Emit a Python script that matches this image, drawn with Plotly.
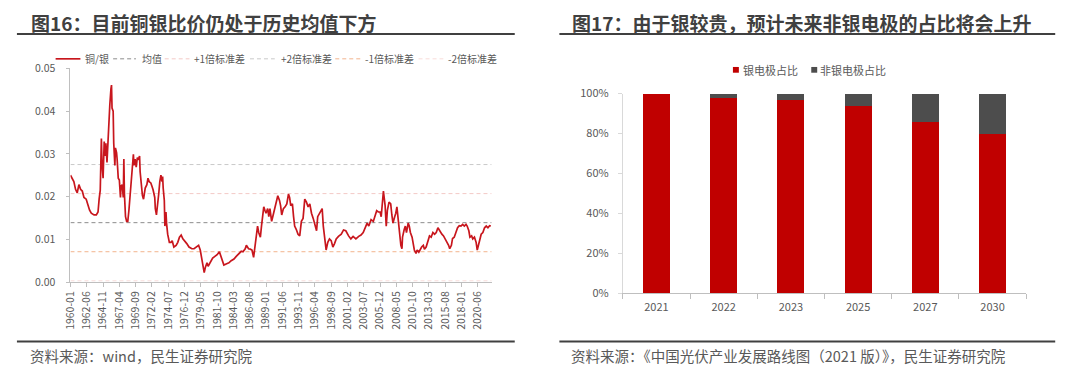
import plotly.graph_objects as go

W, H = 1080, 382


def px(x):
    return x / W


def py(y):
    return 1 - y / H


FONT = "Noto Sans CJK SC"
GRAY_TXT = "#595959"
DARK = "#404040"

# ---------------- Chart 16: copper / silver ratio ----------------
months_since_1960_01 = [
    0, 3, 6, 9, 12, 15, 18, 21, 24, 28,
    31, 34, 37, 42, 46, 49, 51, 53, 55, 56,
    58, 60, 62, 63, 65, 67, 70, 72, 73, 74,
    76, 77, 79, 80, 82, 83, 85, 87, 89, 90,
    92, 94, 95, 96, 98, 100, 102, 104, 106, 108,
    110, 112, 113, 115, 117, 119, 121, 123, 124, 126,
    128, 130, 131, 133, 136, 138, 140, 143, 145, 147,
    150, 151, 153, 155, 157, 159, 161, 163, 164, 165,
    167, 168, 170, 171, 173, 176, 179, 181, 184, 188,
    191, 194, 197, 200, 203, 207, 211, 216, 220, 225,
    228, 231, 233, 236, 238, 240, 243, 245, 248, 253,
    257, 261, 265, 269, 273, 278, 282, 286, 291, 295,
    300, 304, 307, 311, 313, 317, 320, 323, 326, 328,
    331, 333, 335, 338, 340, 344, 346, 348, 351, 353,
    355, 358, 360, 362, 365, 367, 369, 372, 374, 376,
    379, 382, 385, 388, 390, 392, 395, 397, 399, 402,
    405, 408, 411, 414, 417, 420, 423, 426, 429, 432,
    435, 438, 440, 443, 446, 448, 450, 453, 455, 458,
    461, 464, 467, 470, 473, 477, 482, 486, 490, 495,
    499, 503, 508, 513, 517, 521, 524, 528, 531, 535,
    539, 542, 545, 548, 551, 553, 555, 557, 558, 560,
    562, 564, 567, 570, 572, 574, 577, 579, 581, 583,
    585, 588, 590, 591, 594, 596, 598, 601, 603, 605,
    608, 610, 612, 615, 617, 620, 622, 625, 628, 630,
    633, 636, 639, 642, 645, 648, 651, 654, 656, 658,
    661, 664, 667, 670, 673, 675, 678, 680, 683, 686,
    689, 692, 695, 698, 701, 704, 706, 709, 711, 714,
    716, 719, 722, 724, 726, 729, 731, 734, 737, 740,
    743, 746, 748,
]

cu_ag_ratio = [
    0.0250, 0.0243, 0.0235, 0.0217, 0.0209, 0.0228, 0.0217, 0.0213, 0.0198, 0.0194,
    0.0179, 0.0168, 0.0161, 0.0157, 0.0157, 0.0164, 0.0194, 0.0215, 0.0336, 0.0280,
    0.0243, 0.0329, 0.0295, 0.0325, 0.0280, 0.0348, 0.0415, 0.0452, 0.0461, 0.0407,
    0.0400, 0.0325, 0.0273, 0.0314, 0.0303, 0.0288, 0.0243, 0.0239, 0.0198, 0.0224,
    0.0228, 0.0198, 0.0288, 0.0206, 0.0153, 0.0142, 0.0142, 0.0168, 0.0198, 0.0228,
    0.0265, 0.0299, 0.0273, 0.0288, 0.0269, 0.0291, 0.0288, 0.0295, 0.0258, 0.0220,
    0.0203, 0.0194, 0.0206, 0.0220, 0.0228, 0.0243, 0.0235, 0.0232, 0.0224, 0.0216,
    0.0198, 0.0172, 0.0157, 0.0176, 0.0206, 0.0235, 0.0250, 0.0235, 0.0247, 0.0220,
    0.0191, 0.0131, 0.0164, 0.0138, 0.0112, 0.0093, 0.0093, 0.0097, 0.0082, 0.0086,
    0.0093, 0.0105, 0.0110, 0.0101, 0.0097, 0.0090, 0.0082, 0.0078, 0.0078, 0.0082,
    0.0086, 0.0075, 0.0060, 0.0041, 0.0022, 0.0034, 0.0045, 0.0037, 0.0045, 0.0056,
    0.0060, 0.0064, 0.0071, 0.0056, 0.0040, 0.0043, 0.0045, 0.0050, 0.0054, 0.0060,
    0.0067, 0.0072, 0.0071, 0.0078, 0.0086, 0.0078, 0.0077, 0.0075, 0.0058, 0.0078,
    0.0101, 0.0131, 0.0116, 0.0105, 0.0131, 0.0176, 0.0168, 0.0161, 0.0172, 0.0153,
    0.0172, 0.0142, 0.0153, 0.0164, 0.0179, 0.0194, 0.0202, 0.0191, 0.0179, 0.0157,
    0.0172, 0.0176, 0.0183, 0.0206, 0.0198, 0.0179, 0.0183, 0.0153, 0.0131, 0.0123,
    0.0112, 0.0108, 0.0142, 0.0149, 0.0194, 0.0187, 0.0176, 0.0183, 0.0161, 0.0149,
    0.0131, 0.0120, 0.0153, 0.0161, 0.0168, 0.0172, 0.0131, 0.0093, 0.0075, 0.0093,
    0.0101, 0.0097, 0.0082, 0.0090, 0.0101, 0.0107, 0.0112, 0.0122, 0.0120, 0.0108,
    0.0101, 0.0107, 0.0101, 0.0107, 0.0110, 0.0116, 0.0127, 0.0138, 0.0131, 0.0146,
    0.0142, 0.0153, 0.0167, 0.0164, 0.0164, 0.0153, 0.0191, 0.0213, 0.0202, 0.0179,
    0.0131, 0.0168, 0.0187, 0.0183, 0.0157, 0.0138, 0.0153, 0.0161, 0.0176, 0.0146,
    0.0112, 0.0086, 0.0078, 0.0105, 0.0123, 0.0131, 0.0116, 0.0138, 0.0131, 0.0116,
    0.0105, 0.0090, 0.0075, 0.0067, 0.0075, 0.0070, 0.0075, 0.0082, 0.0086, 0.0077,
    0.0082, 0.0097, 0.0108, 0.0105, 0.0116, 0.0112, 0.0116, 0.0127, 0.0123, 0.0116,
    0.0112, 0.0108, 0.0101, 0.0093, 0.0086, 0.0078, 0.0086, 0.0102, 0.0105, 0.0116,
    0.0127, 0.0132, 0.0131, 0.0135, 0.0131, 0.0135, 0.0131, 0.0120, 0.0105, 0.0108,
    0.0101, 0.0105, 0.0093, 0.0075, 0.0086, 0.0101, 0.0112, 0.0116, 0.0127, 0.0131,
    0.0127, 0.0132, 0.0131,
]
assert len(months_since_1960_01) == len(cu_ag_ratio)

ref_names = ["均值", "+1倍标准差", "+2倍标准差", "-1倍标准差", "-2倍标准差"]
ref_levels = [0.0139, 0.0207, 0.0275, 0.0071, 0.0003]
ref_colors = ["#8C8C8C", "#F3C9C6", "#C9C9C9", "#F2B48E", "#F8DCDA"]

x_tick_labels = [
    "1960-01", "1962-06", "1964-11", "1967-04", "1969-09", "1972-02",
    "1974-07", "1976-12", "1979-05", "1981-10", "1984-03", "1986-08",
    "1989-01", "1991-06", "1993-11", "1996-04", "1998-09", "2001-02",
    "2003-07", "2005-12", "2008-05", "2010-10", "2013-03", "2015-08",
    "2018-01", "2020-06",
]
y1_ticks = [0.00, 0.01, 0.02, 0.03, 0.04, 0.05]
x_start, x_end = "1960-01-01", "2022-06-20"

# ---------------- Chart 17: electrode share ----------------
years = ["2021", "2022", "2023", "2025", "2027", "2030"]
silver_share = [100, 98, 97, 94, 86, 80]
non_silver_share = [0, 2, 3, 6, 14, 20]
y2_ticks = [0, 20, 40, 60, 80, 100]
y2_labels = ["0%", "20%", "40%", "60%", "80%", "100%"]

RED_LINE = "#C8161D"
RED_BAR = "#C00000"
GRAY_BAR = "#4D4D4D"

dates = [f"{1960 + m // 12}-{m % 12 + 1:02d}-01" for m in months_since_1960_01]

fig = go.Figure()

for name, lvl, col in zip(ref_names, ref_levels, ref_colors):
    fig.add_trace(go.Scatter(
        x=[x_start, x_end], y=[lvl, lvl], mode="lines", name=name,
        line=dict(color=col, width=1, dash="4px,3px"),
        xaxis="x", yaxis="y", showlegend=False, hoverinfo="skip"))

fig.add_trace(go.Scatter(
    x=dates, y=cu_ag_ratio, mode="lines", name="铜/银",
    line=dict(color=RED_LINE, width=1.7),
    xaxis="x", yaxis="y", showlegend=False))

fig.add_trace(go.Bar(x=years, y=silver_share, name="银电极占比",
                     marker=dict(color=RED_BAR, line=dict(width=0)),
                     xaxis="x2", yaxis="y2", showlegend=False))
fig.add_trace(go.Bar(x=years, y=non_silver_share, name="非银电极占比",
                     marker=dict(color=GRAY_BAR, line=dict(width=0)),
                     xaxis="x2", yaxis="y2", showlegend=False))

axis_line = "#BFBFBF"

fig.update_layout(
    width=W, height=H, autosize=False,
    margin=dict(l=0, r=0, t=0, b=0),
    paper_bgcolor="white", plot_bgcolor="white",
    font=dict(family=FONT, color=GRAY_TXT),
    barmode="stack", bargap=0.6,
    xaxis=dict(
        domain=[px(62), px(486.7)], anchor="y", type="date",
        range=[x_start, x_end], tickmode="array",
        tickvals=[t + "-01" for t in x_tick_labels], ticktext=x_tick_labels,
        tickangle=-90, tickfont=dict(size=10.5, color=GRAY_TXT, family=FONT),
        showline=True, linecolor=axis_line, linewidth=1,
        ticks="outside", ticklen=4, tickcolor=axis_line,
        showgrid=False, zeroline=False, fixedrange=True),
    yaxis=dict(
        domain=[py(285), py(62)], anchor="x", range=[0, 0.05],
        tickmode="array", tickvals=y1_ticks, tickformat=".2f",
        tickfont=dict(size=10.5, color=GRAY_TXT, family=FONT),
        showline=True, linecolor=axis_line, linewidth=1,
        ticks="outside", ticklen=3, tickcolor=axis_line,
        ticklabelstandoff=9,
        showgrid=False, zeroline=False, fixedrange=True),
    xaxis2=dict(
        domain=[px(619), px(1025.7)], anchor="y2", type="category",
        tickfont=dict(size=11, color=GRAY_TXT, family=FONT),
        showline=True, linecolor=axis_line, linewidth=1,
        ticks="outside", ticklen=5, tickcolor=axis_line,
        tickson="boundaries", ticklabelstandoff=4,
        showgrid=False, zeroline=False, fixedrange=True),
    yaxis2=dict(
        domain=[py(296.7), py(88.3)], anchor="x2", range=[0, 100],
        tickmode="array", tickvals=y2_ticks, ticktext=y2_labels,
        tickfont=dict(size=11, color=GRAY_TXT, family=FONT),
        showline=True, linecolor="#D9D9D9", linewidth=1,
        ticks="outside", ticklen=4, tickcolor="#D9D9D9",
        ticklabelstandoff=7,
        showgrid=False, zeroline=False, fixedrange=True),
)

shapes = []
annotations = []

# Titles, rules and source notes
for x0, x1, tx, title, src in [
    (8, 510, 20, "图16：目前铜银比价仍处于历史均值下方", "资料来源：wind，民生证券研究院"),
    (555, 1055, 566, "图17：由于银较贵，预计未来非银电极的占比将会上升",
     "资料来源：《中国光伏产业发展路线图（2021 版）》，民生证券研究院"),
]:
    shapes.append(dict(type="line", xref="paper", yref="paper",
                       x0=px(x0), x1=px(x1), y0=py(26), y1=py(26),
                       line=dict(color=DARK, width=2)))
    shapes.append(dict(type="line", xref="paper", yref="paper",
                       x0=px(x0), x1=px(x1), y0=py(347), y1=py(347),
                       line=dict(color=DARK, width=2)))
    annotations.append(dict(xref="paper", yref="paper", x=px(tx), y=py(14),
                            xanchor="left", yanchor="middle", showarrow=False,
                            text=f"<b>{title}</b>",
                            font=dict(size=19, color=DARK, family=FONT)))
    annotations.append(dict(xref="paper", yref="paper", x=px(tx - 1), y=py(362),
                            xanchor="left", yanchor="middle", showarrow=False,
                            text=src, font=dict(size=14.5, color=GRAY_TXT, family=FONT)))

# Legend for chart 16
leg1 = [("铜/银", RED_LINE, "solid", 1.7, 47, 72, 75)] + [
    (n, c, "4px,3px", 1, a, b, t) for n, c, (a, b, t) in zip(
        ref_names, ref_colors,
        [(105, 128, 132), (157, 182, 185), (243, 268, 272), (329, 355, 357), (413, 438, 441)])
]
for name, col, dash, wd, a, b, t in leg1:
    shapes.append(dict(type="line", xref="paper", yref="paper",
                       x0=px(a), x1=px(b), y0=py(52), y1=py(52),
                       line=dict(color=col, width=wd, dash=dash)))
    annotations.append(dict(xref="paper", yref="paper", x=px(t), y=py(52),
                            xanchor="left", yanchor="middle", showarrow=False,
                            text=name, font=dict(size=10, color=GRAY_TXT, family=FONT)))

# Legend for chart 17
for name, col, a, t in [("银电极占比", RED_BAR, 730, 738),
                         ("非银电极占比", GRAY_BAR, 809, 816)]:
    shapes.append(dict(type="rect", xref="paper", yref="paper",
                       x0=px(a), x1=px(a + 6), y0=py(66.5), y1=py(60.5),
                       fillcolor=col, line=dict(width=0)))
    annotations.append(dict(xref="paper", yref="paper", x=px(t), y=py(63.5),
                            xanchor="left", yanchor="middle", showarrow=False,
                            text=name, font=dict(size=11, color=GRAY_TXT, family=FONT)))

fig.update_layout(shapes=shapes, annotations=annotations)

fig.write_html(
    "out.html",
    config={"displayModeBar": False},
    post_script="document.body.style.margin='0';document.body.style.overflow='hidden';",
)
